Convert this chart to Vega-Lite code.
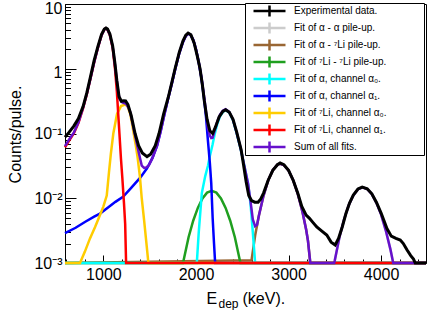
{
"$schema": "https://vega.github.io/schema/vega-lite/v6.json",
"width": 361, "height": 259,
"autosize": {"type": "none"},
"padding": {"left": 65, "top": 4, "right": 4, "bottom": 47},
"background": "white",
"config": {
  "font": "Liberation Sans",
  "view": {"stroke": "#000", "strokeWidth": 1},
  "axis": {"labelFont": "Liberation Sans", "titleFont": "Liberation Sans", "labelColor": "#000", "titleColor": "#000", "titleFontWeight": "normal", "grid": false}
},
"datasets": {
  "names": [
    {"c":"k","name":"Experimental data."},
    {"c":"g","name":"Fit of α - α pile-up."},
    {"c":"b","name":"Fit of α - ⁷Li pile-up."},
    {"c":"n","name":"Fit of ⁷Li - ⁷Li pile-up."},
    {"c":"c","name":"Fit of α, channel α₀."},
    {"c":"u","name":"Fit of α, channel α₁."},
    {"c":"y","name":"Fit of ⁷Li, channel α₀."},
    {"c":"r","name":"Fit of ⁷Li, channel α₁."},
    {"c":"p","name":"Sum of all fits."}
  ],
  "curves": [
    {"c":"g","x":585,"y":0.001},{"c":"g","x":3493,"y":0.001},{"c":"g","x":3500,"y":0.0011},{"c":"g","x":3550,"y":0.0025},{"c":"g","x":3600,"y":0.0047},{"c":"g","x":3650,"y":0.0078},{"c":"g","x":3700,"y":0.0111},{"c":"g","x":3750,"y":0.0138},{"c":"g","x":3800,"y":0.0148},{"c":"g","x":3850,"y":0.0139},{"c":"g","x":3900,"y":0.0116},{"c":"g","x":3950,"y":0.0085},{"c":"g","x":4000,"y":0.0056},{"c":"g","x":4050,"y":0.0032},{"c":"g","x":4100,"y":0.00164},{"c":"g","x":4131,"y":0.001},{"c":"g","x":4485,"y":0.001},

    {"c":"b","x":585,"y":0.001},{"c":"b","x":2600,"y":0.0011},{"c":"b","x":2640,"y":0.0027},{"c":"b","x":2680,"y":0.0054},{"c":"b","x":2730,"y":0.011},{"c":"b","x":2780,"y":0.0189},{"c":"b","x":2830,"y":0.0272},{"c":"b","x":2880,"y":0.033},{"c":"b","x":2910,"y":0.034},{"c":"b","x":2950,"y":0.0324},{"c":"b","x":3000,"y":0.0268},{"c":"b","x":3050,"y":0.019},{"c":"b","x":3100,"y":0.0117},{"c":"b","x":3150,"y":0.0062},{"c":"b","x":3190,"y":0.0033},{"c":"b","x":3210,"y":0.0022},{"c":"b","x":3235,"y":0.001},{"c":"b","x":4485,"y":0.001},

    {"c":"n","x":585,"y":0.001},{"c":"n","x":1860,"y":0.001},{"c":"n","x":1920,"y":0.0025},{"c":"n","x":1970,"y":0.0045},{"c":"n","x":2020,"y":0.0071},{"c":"n","x":2070,"y":0.00996},{"c":"n","x":2120,"y":0.0122},{"c":"n","x":2170,"y":0.013},{"c":"n","x":2220,"y":0.0122},{"c":"n","x":2270,"y":0.00996},{"c":"n","x":2320,"y":0.0071},{"c":"n","x":2370,"y":0.0045},{"c":"n","x":2420,"y":0.0025},{"c":"n","x":2480,"y":0.001},{"c":"n","x":4485,"y":0.001},

    {"c":"c","x":585,"y":0.001},{"c":"c","x":2009,"y":0.001},{"c":"c","x":2030,"y":0.003},{"c":"c","x":2063,"y":0.012},{"c":"c","x":2100,"y":0.022},{"c":"c","x":2130,"y":0.032},{"c":"c","x":2150,"y":0.045},{"c":"c","x":2165,"y":0.055},{"c":"c","x":2180,"y":0.068},{"c":"c","x":2200,"y":0.095},{"c":"c","x":2230,"y":0.14},{"c":"c","x":2260,"y":0.185},{"c":"c","x":2290,"y":0.215},{"c":"c","x":2320,"y":0.23},{"c":"c","x":2360,"y":0.21},{"c":"c","x":2400,"y":0.16},{"c":"c","x":2440,"y":0.1},{"c":"c","x":2480,"y":0.06},{"c":"c","x":2520,"y":0.033},{"c":"c","x":2563,"y":0.0167},{"c":"c","x":2590,"y":0.008},{"c":"c","x":2614,"y":0.003},{"c":"c","x":2639,"y":0.001},{"c":"c","x":4485,"y":0.001},

    {"c":"u","x":585,"y":0.0029},{"c":"u","x":700,"y":0.0035},{"c":"u","x":800,"y":0.0043},{"c":"u","x":900,"y":0.0052},{"c":"u","x":963,"y":0.0058},{"c":"u","x":1050,"y":0.0072},{"c":"u","x":1130,"y":0.0088},{"c":"u","x":1212,"y":0.0105},{"c":"u","x":1300,"y":0.0145},{"c":"u","x":1400,"y":0.021},{"c":"u","x":1471,"y":0.029},{"c":"u","x":1530,"y":0.042},{"c":"u","x":1580,"y":0.065},{"c":"u","x":1620,"y":0.11},{"c":"u","x":1660,"y":0.2},{"c":"u","x":1700,"y":0.35},{"c":"u","x":1740,"y":0.6},{"c":"u","x":1780,"y":1.05},{"c":"u","x":1820,"y":1.75},{"c":"u","x":1860,"y":2.6},{"c":"u","x":1890,"y":3.2},{"c":"u","x":1915,"y":3.5},{"c":"u","x":1940,"y":3.35},{"c":"u","x":1970,"y":2.8},{"c":"u","x":2000,"y":2.0},{"c":"u","x":2030,"y":1.25},{"c":"u","x":2060,"y":0.7},{"c":"u","x":2090,"y":0.32},{"c":"u","x":2110,"y":0.17},{"c":"u","x":2130,"y":0.075},{"c":"u","x":2150,"y":0.035},{"c":"u","x":2165,"y":0.017},{"c":"u","x":2180,"y":0.005},{"c":"u","x":2195,"y":0.002},{"c":"u","x":2207,"y":0.001},{"c":"u","x":4485,"y":0.001},

    {"c":"y","x":585,"y":0.001},{"c":"y","x":747,"y":0.001},{"c":"y","x":800,"y":0.0015},{"c":"y","x":855,"y":0.0024},{"c":"y","x":910,"y":0.0036},{"c":"y","x":963,"y":0.0055},{"c":"y","x":1000,"y":0.0075},{"c":"y","x":1036,"y":0.011},{"c":"y","x":1060,"y":0.025},{"c":"y","x":1080,"y":0.048},{"c":"y","x":1107,"y":0.1},{"c":"y","x":1147,"y":0.2},{"c":"y","x":1190,"y":0.265},{"c":"y","x":1234,"y":0.28},{"c":"y","x":1260,"y":0.265},{"c":"y","x":1290,"y":0.2},{"c":"y","x":1310,"y":0.14},{"c":"y","x":1330,"y":0.095},{"c":"y","x":1350,"y":0.065},{"c":"y","x":1370,"y":0.042},{"c":"y","x":1395,"y":0.021},{"c":"y","x":1414,"y":0.01},{"c":"y","x":1440,"y":0.0045},{"c":"y","x":1465,"y":0.002},{"c":"y","x":1486,"y":0.001},{"c":"y","x":4485,"y":0.001},

    {"c":"r","x":585,"y":0.061},{"c":"r","x":630,"y":0.078},{"c":"r","x":680,"y":0.1},{"c":"r","x":730,"y":0.145},{"c":"r","x":780,"y":0.245},{"c":"r","x":820,"y":0.4},{"c":"r","x":860,"y":0.7},{"c":"r","x":900,"y":1.25},{"c":"r","x":940,"y":2.1},{"c":"r","x":980,"y":3.3},{"c":"r","x":1010,"y":4.05},{"c":"r","x":1025,"y":4.2},{"c":"r","x":1045,"y":4.0},{"c":"r","x":1070,"y":3.3},{"c":"r","x":1100,"y":2.1},{"c":"r","x":1125,"y":1.0},{"c":"r","x":1145,"y":0.45},{"c":"r","x":1160,"y":0.2},{"c":"r","x":1175,"y":0.09},{"c":"r","x":1190,"y":0.04},{"c":"r","x":1205,"y":0.02},{"c":"r","x":1222,"y":0.0085},{"c":"r","x":1235,"y":0.004},{"c":"r","x":1245,"y":0.001},{"c":"r","x":4485,"y":0.001},

    {"c":"p","x":585,"y":0.064},{"c":"p","x":630,"y":0.081},{"c":"p","x":680,"y":0.103},{"c":"p","x":730,"y":0.149},{"c":"p","x":780,"y":0.25},{"c":"p","x":820,"y":0.41},{"c":"p","x":860,"y":0.71},{"c":"p","x":900,"y":1.26},{"c":"p","x":940,"y":2.11},{"c":"p","x":980,"y":3.31},{"c":"p","x":1010,"y":4.06},{"c":"p","x":1025,"y":4.22},{"c":"p","x":1045,"y":4.02},{"c":"p","x":1070,"y":3.34},{"c":"p","x":1100,"y":2.19},{"c":"p","x":1125,"y":1.15},{"c":"p","x":1145,"y":0.65},{"c":"p","x":1160,"y":0.43},{"c":"p","x":1175,"y":0.344},{"c":"p","x":1190,"y":0.315},{"c":"p","x":1205,"y":0.302},{"c":"p","x":1222,"y":0.296},{"c":"p","x":1245,"y":0.287},{"c":"p","x":1270,"y":0.252},{"c":"p","x":1290,"y":0.2135},{"c":"p","x":1310,"y":0.155},{"c":"p","x":1330,"y":0.111},{"c":"p","x":1350,"y":0.0825},{"c":"p","x":1370,"y":0.061},{"c":"p","x":1395,"y":0.0417},{"c":"p","x":1414,"y":0.032},{"c":"p","x":1440,"y":0.0295},{"c":"p","x":1465,"y":0.03},{"c":"p","x":1490,"y":0.032},{"c":"p","x":1530,"y":0.042},{"c":"p","x":1580,"y":0.065},{"c":"p","x":1620,"y":0.11},{"c":"p","x":1660,"y":0.2},{"c":"p","x":1700,"y":0.35},{"c":"p","x":1740,"y":0.6},{"c":"p","x":1780,"y":1.05},{"c":"p","x":1820,"y":1.75},{"c":"p","x":1860,"y":2.6},{"c":"p","x":1890,"y":3.2},{"c":"p","x":1915,"y":3.5},{"c":"p","x":1940,"y":3.36},{"c":"p","x":1970,"y":2.8},{"c":"p","x":2000,"y":2.0},{"c":"p","x":2030,"y":1.26},{"c":"p","x":2060,"y":0.72},{"c":"p","x":2090,"y":0.351},{"c":"p","x":2110,"y":0.206},{"c":"p","x":2130,"y":0.119},{"c":"p","x":2150,"y":0.093},{"c":"p","x":2165,"y":0.085},{"c":"p","x":2180,"y":0.086},{"c":"p","x":2200,"y":0.109},{"c":"p","x":2230,"y":0.152},{"c":"p","x":2260,"y":0.196},{"c":"p","x":2290,"y":0.224},{"c":"p","x":2320,"y":0.237},{"c":"p","x":2360,"y":0.215},{"c":"p","x":2400,"y":0.163},{"c":"p","x":2440,"y":0.102},{"c":"p","x":2480,"y":0.061},{"c":"p","x":2520,"y":0.033},{"c":"p","x":2563,"y":0.0167},{"c":"p","x":2590,"y":0.0088},{"c":"p","x":2614,"y":0.0047},{"c":"p","x":2639,"y":0.0037},{"c":"p","x":2660,"y":0.0039},{"c":"p","x":2680,"y":0.0054},{"c":"p","x":2730,"y":0.011},{"c":"p","x":2780,"y":0.0189},{"c":"p","x":2830,"y":0.0272},{"c":"p","x":2880,"y":0.033},{"c":"p","x":2910,"y":0.034},{"c":"p","x":2950,"y":0.0324},{"c":"p","x":3000,"y":0.0268},{"c":"p","x":3050,"y":0.019},{"c":"p","x":3100,"y":0.0117},{"c":"p","x":3150,"y":0.0062},{"c":"p","x":3190,"y":0.0033},{"c":"p","x":3210,"y":0.0022},{"c":"p","x":3235,"y":0.001},{"c":"p","x":3493,"y":0.001},{"c":"p","x":3500,"y":0.0011},{"c":"p","x":3550,"y":0.0025},{"c":"p","x":3600,"y":0.0047},{"c":"p","x":3650,"y":0.0078},{"c":"p","x":3700,"y":0.0111},{"c":"p","x":3750,"y":0.0138},{"c":"p","x":3800,"y":0.0148},{"c":"p","x":3850,"y":0.0139},{"c":"p","x":3900,"y":0.0116},{"c":"p","x":3950,"y":0.0085},{"c":"p","x":4000,"y":0.0056},{"c":"p","x":4050,"y":0.0032},{"c":"p","x":4100,"y":0.00164},{"c":"p","x":4131,"y":0.001},{"c":"p","x":4485,"y":0.001},

    {"c":"k","x":585,"y":0.088},{"c":"k","x":630,"y":0.105},{"c":"k","x":680,"y":0.13},{"c":"k","x":730,"y":0.17},{"c":"k","x":780,"y":0.26},{"c":"k","x":820,"y":0.42},{"c":"k","x":860,"y":0.75},{"c":"k","x":900,"y":1.35},{"c":"k","x":940,"y":2.2},{"c":"k","x":980,"y":3.4},{"c":"k","x":1010,"y":4.1},{"c":"k","x":1028,"y":4.25},{"c":"k","x":1045,"y":4.1},{"c":"k","x":1070,"y":3.45},{"c":"k","x":1100,"y":2.25},{"c":"k","x":1125,"y":1.2},{"c":"k","x":1145,"y":0.66},{"c":"k","x":1169,"y":0.37},{"c":"k","x":1195,"y":0.315},{"c":"k","x":1220,"y":0.32},{"c":"k","x":1240,"y":0.318},{"c":"k","x":1265,"y":0.28},{"c":"k","x":1300,"y":0.19},{"c":"k","x":1342,"y":0.1},{"c":"k","x":1380,"y":0.065},{"c":"k","x":1420,"y":0.05},{"c":"k","x":1471,"y":0.044},{"c":"k","x":1510,"y":0.048},{"c":"k","x":1560,"y":0.065},{"c":"k","x":1601,"y":0.1},{"c":"k","x":1650,"y":0.2},{"c":"k","x":1700,"y":0.36},{"c":"k","x":1740,"y":0.62},{"c":"k","x":1774,"y":1.0},{"c":"k","x":1820,"y":1.8},{"c":"k","x":1860,"y":2.7},{"c":"k","x":1890,"y":3.3},{"c":"k","x":1915,"y":3.56},{"c":"k","x":1945,"y":3.35},{"c":"k","x":1980,"y":2.5},{"c":"k","x":2015,"y":1.55},{"c":"k","x":2044,"y":1.0},{"c":"k","x":2070,"y":0.55},{"c":"k","x":2090,"y":0.32},{"c":"k","x":2120,"y":0.165},{"c":"k","x":2150,"y":0.11},{"c":"k","x":2180,"y":0.1},{"c":"k","x":2210,"y":0.125},{"c":"k","x":2250,"y":0.18},{"c":"k","x":2290,"y":0.22},{"c":"k","x":2320,"y":0.232},{"c":"k","x":2360,"y":0.212},{"c":"k","x":2400,"y":0.165},{"c":"k","x":2440,"y":0.105},{"c":"k","x":2488,"y":0.056},{"c":"k","x":2515,"y":0.032},{"c":"k","x":2542,"y":0.018},{"c":"k","x":2570,"y":0.011},{"c":"k","x":2600,"y":0.0092},{"c":"k","x":2635,"y":0.0087},{"c":"k","x":2671,"y":0.0087},{"c":"k","x":2700,"y":0.0098},{"c":"k","x":2730,"y":0.012},{"c":"k","x":2780,"y":0.019},{"c":"k","x":2830,"y":0.027},{"c":"k","x":2880,"y":0.033},{"c":"k","x":2909,"y":0.035},{"c":"k","x":2950,"y":0.033},{"c":"k","x":3000,"y":0.027},{"c":"k","x":3050,"y":0.019},{"c":"k","x":3100,"y":0.012},{"c":"k","x":3143,"y":0.0075},{"c":"k","x":3190,"y":0.0055},{"c":"k","x":3226,"y":0.0049},{"c":"k","x":3265,"y":0.0042},{"c":"k","x":3305,"y":0.0036},{"c":"k","x":3360,"y":0.0031},{"c":"k","x":3413,"y":0.0027},{"c":"k","x":3460,"y":0.0021},{"c":"k","x":3504,"y":0.0019},{"c":"k","x":3540,"y":0.0024},{"c":"k","x":3580,"y":0.0036},{"c":"k","x":3620,"y":0.0058},{"c":"k","x":3660,"y":0.0085},{"c":"k","x":3700,"y":0.0112},{"c":"k","x":3750,"y":0.0139},{"c":"k","x":3796,"y":0.0149},{"c":"k","x":3850,"y":0.014},{"c":"k","x":3900,"y":0.0117},{"c":"k","x":3950,"y":0.0086},{"c":"k","x":4000,"y":0.0059},{"c":"k","x":4063,"y":0.0034},{"c":"k","x":4110,"y":0.0026},{"c":"k","x":4160,"y":0.0024},{"c":"k","x":4207,"y":0.00226},{"c":"k","x":4240,"y":0.002},{"c":"k","x":4279,"y":0.0016},{"c":"k","x":4320,"y":0.0013},{"c":"k","x":4350,"y":0.00115},{"c":"k","x":4369,"y":0.001},{"c":"k","x":4485,"y":0.001}
  ]
},
"data": {"name": "curves"},
"transform": [{"lookup": "c", "from": {"data": {"name": "names"}, "key": "c", "fields": ["name"]}}],
"encoding": {
  "x": {"field": "x", "type": "quantitative", "scale": {"domain": [585, 4485], "nice": false, "zero": false}, "axis": null},
  "y": {"field": "y", "type": "quantitative", "scale": {"type": "log", "domain": [0.001, 10], "nice": false}, "axis": null},
  "color": {
    "field": "name", "type": "nominal",
    "scale": {
      "domain": ["Experimental data.", "Fit of α - α pile-up.", "Fit of α - ⁷Li pile-up.", "Fit of ⁷Li - ⁷Li pile-up.", "Fit of α, channel α₀.", "Fit of α, channel α₁.", "Fit of ⁷Li, channel α₀.", "Fit of ⁷Li, channel α₁.", "Sum of all fits."],
      "range": ["#000000", "#cccccc", "#996633", "#1f9f1f", "#00ffff", "#0000ff", "#ffcc00", "#ff0000", "#6611cc"]
    },
    "legend": {
      "orient": "none", "legendX": 180, "legendY": -1,
      "title": "\u00a0", "titleOrient": "right", "titlePadding": 38, "titleFontSize": 10,
      "symbolType": "M-1,0H1M0,-0.35V0.35", "symbolSize": 1024, "symbolStrokeWidth": 2.5,
      "clipHeight": 16, "rowPadding": 1, "padding": 0, "symbolOffset": 7, "labelOffset": 7,
      "labelFontSize": 10, "labelFont": "Liberation Sans", "labelColor": "#000", "labelLimit": 300,
      "strokeColor": "#000", "fillColor": "#fff", "cornerRadius": 0
    }
  }
},
"resolve": {"axis": {"x": "independent", "y": "independent"}},
"layer": [
  {
    "transform": [{"filter": "datum.c === 'g'"}],
    "mark": {"type": "line", "strokeWidth": 2.5},
    "encoding": {
      "x": {"field": "x", "type": "quantitative", "scale": {"domain": [585, 4485], "nice": false, "zero": false},
        "axis": {
          "values": [600,800,1000,1200,1400,1600,1800,2000,2200,2400,2600,2800,3000,3200,3400,3600,3800,4000,4200,4400],
          "tickSize": {"condition": {"test": "datum.value % 1000 === 0", "value": -8}, "value": -4},
          "labelExpr": "datum.value % 1000 === 0 ? '' + datum.value : ''",
          "labelFontSize": 16, "labelPadding": 11, "labelFlush": false, "labelOverlap": false,
          "tickColor": "#000", "domainColor": "#000", "tickWidth": 1,
          "title": "E", "titleFontSize": 16, "titleX": 141, "titleY": 40, "titleAlign": "left", "titleBaseline": "alphabetic", "titleAnchor": null
        }},
      "y": {"field": "y", "type": "quantitative", "scale": {"type": "log", "domain": [0.001, 10], "nice": false},
        "axis": {
          "values": [0.001,0.002,0.003,0.004,0.005,0.006,0.007,0.008,0.009,0.01,0.02,0.03,0.04,0.05,0.06,0.07,0.08,0.09,0.1,0.2,0.3,0.4,0.5,0.6,0.7,0.8,0.9,1,2,3,4,5,6,7,8,9,10],
          "tickSize": {"condition": {"test": "indexof([0.001,0.01,0.1,1,10], datum.value) >= 0", "value": -11}, "value": -5.5},
          "labelExpr": "datum.value === 10 ? '10' : datum.value === 1 ? '1' : datum.value === 0.1 ? '10⁻¹' : datum.value === 0.01 ? '10⁻²' : datum.value === 0.001 ? '10⁻³' : ''",
          "labelOffset": {"condition": {"test": "datum.value >= 1", "value": 4}, "value": 0},
          "labelFontSize": 16, "labelPadding": 14, "labelFlush": false, "labelOverlap": false,
          "tickColor": "#000", "domainColor": "#000", "tickWidth": 1,
          "title": "Counts/pulse.", "titleFontSize": 16, "titleX": -50, "titleY": 130, "titleAngle": 270, "titleAlign": "center", "titleBaseline": "middle", "titleAnchor": null
        }}
    }
  },
  {
    "transform": [{"filter": "datum.c === 'b'"}],
    "mark": {"type": "line", "strokeWidth": 2.5},
    "encoding": {
      "x": {"field": "x", "type": "quantitative", "scale": {"domain": [585, 4485], "nice": false, "zero": false},
        "axis": {"orient": "top", "offset": 0, "labels": false, "ticks": false, "domain": false, "title": "dep", "titleFontSize": 12, "titleX": 153, "titleY": 303, "titleAlign": "left", "titleBaseline": "alphabetic", "titleAnchor": null}}
    }
  },
  {
    "transform": [{"filter": "datum.c === 'n'"}],
    "mark": {"type": "line", "strokeWidth": 2.5},
    "encoding": {
      "y": {"field": "y", "type": "quantitative", "scale": {"type": "log", "domain": [0.001, 10], "nice": false},
        "axis": {"orient": "right", "offset": 0, "labels": false, "ticks": false, "domain": false, "title": "(keV).", "titleFontSize": 16, "titleAngle": 0, "titleX": -184, "titleY": 299, "titleAlign": "left", "titleBaseline": "alphabetic", "titleAnchor": null}}
    }
  },
  {"transform": [{"filter": "datum.c === 'c'"}], "mark": {"type": "line", "strokeWidth": 2.5}},
  {"transform": [{"filter": "datum.c === 'u'"}], "mark": {"type": "line", "strokeWidth": 2.5}},
  {"transform": [{"filter": "datum.c === 'y'"}], "mark": {"type": "line", "strokeWidth": 2.5}},
  {"transform": [{"filter": "datum.c === 'r'"}], "mark": {"type": "line", "strokeWidth": 2.5}},
  {"transform": [{"filter": "datum.c === 'p'"}], "mark": {"type": "line", "strokeWidth": 2.5}},
  {"transform": [{"filter": "datum.c === 'k'"}], "mark": {"type": "line", "strokeWidth": 3}}
]
}
